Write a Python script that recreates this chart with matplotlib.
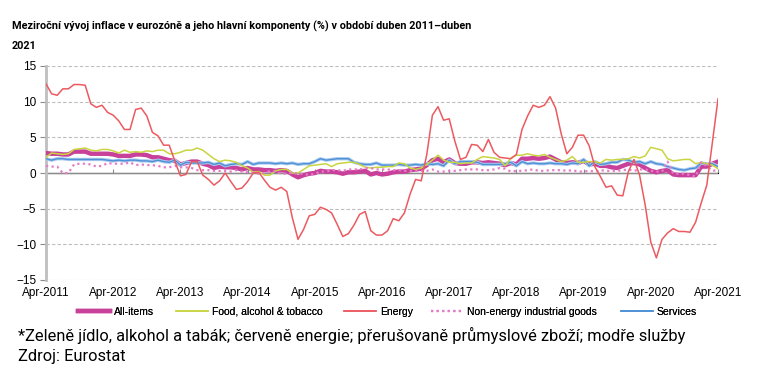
import matplotlib
matplotlib.use("Agg")
import matplotlib.pyplot as plt
from matplotlib.lines import Line2D

# ---------------- data ----------------
tick_labels = ["Apr-2011", "Apr-2012", "Apr-2013", "Apr-2014", "Apr-2015", "Apr-2016",
               "Apr-2017", "Apr-2018", "Apr-2019", "Apr-2020", "Apr-2021"]

all_items = [
    2.8, 2.7, 2.7, 2.6, 2.6, 3.0, 3.0, 3.0, 2.7,
    2.7, 2.7, 2.7, 2.6, 2.4, 2.4, 2.4, 2.6, 2.6, 2.5, 2.2, 2.2,
    2.0, 1.8, 1.7, 1.2, 1.4, 1.6, 1.6, 1.3, 1.1, 0.7, 0.9, 0.8,
    0.8, 0.7, 0.5, 0.7, 0.5, 0.5, 0.4, 0.4, 0.3, 0.4, 0.3, -0.2,
    -0.6, -0.3, -0.1, 0.0, 0.3, 0.2, 0.2, 0.1, -0.1, 0.1, 0.1, 0.2,
    0.3, -0.2, 0.0, -0.2, -0.1, 0.1, 0.2, 0.2, 0.4, 0.5, 0.6, 1.1,
    1.8, 2.0, 1.5, 1.9, 1.4, 1.3, 1.3, 1.5, 1.5, 1.4, 1.5, 1.4,
    1.3, 1.1, 1.4, 1.2, 2.0, 2.0, 2.1, 2.0, 2.1, 2.3, 1.9, 1.5,
    1.4, 1.5, 1.4, 1.7, 1.2, 1.3, 1.0, 1.0, 0.8, 0.7, 1.0, 1.3,
    1.4, 1.2, 0.7, 0.3, 0.1, 0.3, 0.4, -0.2, -0.3, -0.3, -0.3, -0.3,
    0.9, 0.9, 1.3, 1.6]

food = [
    2.2, 2.8, 2.7, 2.6, 2.7, 3.3, 3.4, 3.5, 3.2,
    3.1, 3.3, 3.3, 3.1, 2.8, 3.2, 2.9, 3.0, 2.9, 3.1, 3.0, 3.2,
    3.2, 2.7, 2.7, 2.9, 3.2, 3.2, 3.5, 3.2, 2.6, 2.0, 1.6, 1.8,
    1.7, 1.5, 1.0, 0.7, 0.1, 0.2, -0.3, -0.3, 0.3, 0.5, 0.5, 0.0,
    0.0, 0.5, 1.0, 1.1, 1.2, 1.3, 0.9, 1.3, 1.4, 1.5, 1.5, 1.2,
    0.8, 0.7, 0.8, 0.8, 0.9, 0.9, 1.4, 1.3, 0.7, 0.5, 0.7, 1.2,
    1.8, 2.5, 1.8, 1.5, 1.5, 1.3, 1.4, 1.4, 1.9, 2.3, 2.2, 2.1,
    1.9, 1.0, 2.1, 2.5, 2.5, 2.7, 2.5, 2.4, 2.6, 2.2, 1.9, 1.6,
    1.8, 2.3, 1.5, 1.5, 1.6, 1.6, 1.4, 1.9, 1.8, 1.9, 1.9, 2.0,
    2.3, 2.1, 2.4, 3.6, 3.4, 3.2, 2.0, 1.7, 1.8, 1.9, 1.9, 1.3,
    1.5, 1.3, 1.1, 0.6]

energy = [
    12.5, 11.1, 10.9, 11.8, 11.8, 12.4, 12.4, 12.3, 9.7,
    9.2, 9.5, 8.5, 8.1, 7.3, 6.1, 6.1, 8.9, 9.1, 8.0, 5.7, 5.2,
    3.9, 3.9, 1.7, -0.4, -0.2, 1.6, 1.6, -0.3, -0.9, -1.7, -1.1, 0.0,
    -1.2, -2.3, -2.1, -1.2, 0.0, 0.1, -1.0, -2.0, -2.4, -2.0, -2.6, -6.3,
    -9.3, -7.9, -6.0, -5.8, -4.8, -5.1, -5.6, -7.2, -8.9, -8.5, -7.3, -5.8,
    -5.4, -8.1, -8.7, -8.7, -8.1, -6.4, -6.7, -5.6, -3.0, -0.9, -1.1, 2.6,
    8.1, 9.3, 7.4, 7.6, 4.5, 1.9, 2.2, 4.0, 3.9, 3.0, 4.7, 2.9,
    2.2, 2.1, 2.0, 2.6, 6.1, 8.0, 9.5, 9.2, 9.5, 10.7, 9.1, 5.5,
    2.7, 3.6, 5.3, 5.3, 3.8, 0.9, -0.5, -2.0, -1.8, -3.1, -3.2, 0.2,
    1.9, -0.3, -4.5, -9.7, -11.9, -9.3, -8.4, -7.8, -8.2, -8.2, -8.3, -6.9,
    -4.2, -1.7, 4.3, 10.4]

non_energy_goods = [
    1.0, 0.9, 0.9, 0.0, 0.0, 1.2, 1.3, 1.3, 1.2,
    0.9, 1.0, 1.4, 1.3, 1.3, 1.3, 1.5, 1.1, 1.2, 1.1, 1.1, 1.0,
    0.8, 0.8, 1.0, 0.8, 0.8, 0.7, 0.4, 0.4, 0.4, 0.3, 0.3, 0.3,
    0.2, 0.4, 0.2, 0.1, 0.0, -0.1, 0.0, 0.3, 0.2, -0.1, -0.1, 0.0,
    -0.1, -0.1, -0.3, -0.1, 0.2, 0.2, 0.4, 0.4, 0.3, 0.5, 0.5, 0.5,
    0.7, 0.7, 0.5, 0.5, 0.5, 0.4, 0.4, 0.3, 0.3, 0.3, 0.3, 0.3,
    0.5, 0.2, 0.2, 0.3, 0.3, 0.4, 0.5, 0.5, 0.5, 0.4, 0.4, 0.5,
    0.7, 0.6, 0.2, 0.3, 0.3, 0.4, 0.5, 0.3, 0.3, 0.4, 0.4, 0.4,
    0.3, 0.4, 0.2, 0.2, 0.3, 0.2, 0.4, 0.3, 0.3, 0.3, 0.4, 0.5,
    0.3, 0.5, 0.5, 0.3, 0.2, 0.2, 1.6, -0.1, -0.1, -0.1, -0.3, -0.5,
    1.5, 1.0, 0.3, 0.4]

services = [
    2.0, 1.8, 2.0, 2.0, 1.9, 1.9, 1.9, 1.9, 1.9,
    1.9, 1.9, 1.8, 1.7, 1.8, 1.7, 1.8, 1.8, 1.7, 1.7, 1.6, 1.8,
    1.6, 1.5, 1.8, 1.1, 1.5, 1.4, 1.4, 1.4, 1.5, 1.2, 1.4, 1.0,
    1.2, 1.3, 1.2, 1.6, 1.2, 1.4, 1.4, 1.4, 1.3, 1.4, 1.3, 1.4,
    1.2, 1.3, 1.3, 1.6, 2.0, 1.8, 1.9, 2.0, 2.0, 2.0, 1.5, 1.3,
    1.2, 1.2, 1.4, 1.1, 1.1, 1.1, 1.2, 1.1, 1.1, 1.2, 1.1, 1.3,
    1.2, 1.3, 1.0, 1.8, 1.3, 1.6, 1.6, 1.6, 1.5, 1.2, 1.2, 1.2,
    1.2, 1.3, 1.5, 1.0, 1.6, 1.3, 1.4, 1.3, 1.3, 1.4, 1.3, 1.3,
    1.2, 1.4, 1.3, 1.9, 1.0, 1.6, 1.2, 1.3, 1.5, 1.5, 1.9, 1.8,
    1.5, 1.6, 1.3, 1.6, 1.3, 1.2, 0.9, 0.7, 0.5, 0.4, 0.6, 0.7,
    1.4, 1.3, 1.3, 0.9]

series_names = ["All-items", "Food, alcohol & tobacco", "Energy",
                "Non-energy industrial goods", "Services"]

title_text = "Meziroční vývoj inflace v eurozóně a jeho hlavní komponenty (%) v období duben 2011–duben\n2021"
note_text = "*Zeleně jídlo, alkohol a tabák; červeně energie; přerušovaně průmyslové zboží; modře služby"
source_text = "Zdroj: Eurostat"

# ---------------- figure ----------------
W, H = 778, 382
fig = plt.figure(figsize=(W / 100, H / 100), dpi=100)
fig.patch.set_facecolor("white")

narrow = ["Liberation Sans Narrow", "Liberation Sans", "DejaVu Sans"]
body = ["Roboto", "DejaVu Sans"]

ax = fig.add_axes([46 / W, 102 / H, 672 / W, 214 / H])
n = len(all_items)
months = list(range(n))
ax.set_xlim(0, n - 1)
ax.set_ylim(-15, 15)

for yv in [-15, -10, -5, 5, 10, 15]:
    ax.axhline(yv, color="#BDBDBD", lw=0.8, ls=(0, (3, 2)), zorder=1)
ax.axhline(0, color="#8C8C8C", lw=1.0, zorder=1)

for s in ["top", "right", "bottom"]:
    ax.spines[s].set_visible(False)
ax.spines["left"].set_color("#BFBFBF")
ax.spines["left"].set_linewidth(2.0)

ax.set_yticks(range(-15, 16, 5))
ax.tick_params(axis="y", length=4, width=0.8, color="#8C8C8C", pad=3, labelsize=8.5)
year_pos = list(range(0, n, 12))
ax.set_xticks(year_pos)
ax.set_xticklabels(tick_labels)
ax.tick_params(axis="x", length=0, pad=5, labelsize=8.5)
for lab in ax.get_xticklabels() + ax.get_yticklabels():
    lab.set_fontfamily(narrow)

# small tick marks on the zero line
sec = ax.secondary_xaxis(0.5)
sec.set_xticks(year_pos)
sec.set_xticklabels([])
sec.tick_params(axis="x", length=3, width=0.8, color="#8C8C8C", direction="out")
sec.spines["bottom"].set_visible(False)

c_all = "#C8409A"
c_food = "#C9D440"
c_energy = "#EC5A60"
c_neig = "#E47CCB"
c_serv = "#4F8FD6"

ax.plot(months, all_items, color=c_all, lw=3.2, solid_capstyle="round", zorder=3)
ax.plot(months, food, color=c_food, lw=1.1, zorder=4)
ax.plot(months, energy, color=c_energy, lw=1.1, zorder=5)
ax.plot(months, non_energy_goods, color=c_neig, lw=1.6, ls=(0, (1, 1.5)), zorder=4)
ax.plot(months, services, color="#A9CBEF", lw=2.4, zorder=3.5)
ax.plot(months, services, color=c_serv, lw=1.0, zorder=3.6)

handles = [
    Line2D([], [], color=c_all, lw=3.2),
    Line2D([], [], color=c_food, lw=1.1),
    Line2D([], [], color=c_energy, lw=1.1),
    Line2D([], [], color=c_neig, lw=1.6, ls=(0, (1, 1.5))),
    Line2D([], [], color=c_serv, lw=1.2),
]

# legend entries placed individually (left edge of each key line, in px)
leg_x = [78, 176, 344, 431, 621]
leg_y = 312
leg_size = 7.5
for hx, h, name in zip(leg_x, handles, series_names):
    lg = fig.legend([h], [name], loc="center left", bbox_to_anchor=(hx / W, 1 - leg_y / H),
                    frameon=False, borderpad=0, borderaxespad=0, handlelength=3.1,
                    handletextpad=0.35, prop={"family": narrow, "size": leg_size})
    fig.add_artist(lg)

# ---------------- texts ----------------
fig.canvas.draw()
renderer = fig.canvas.get_renderer()


def fit_text(x, y, s, target_w, size, **kw):
    t = fig.text(x / W, 1 - y / H, s, fontsize=size, **kw)
    bb = t.get_window_extent(renderer)
    t.set_fontsize(size * target_w / bb.width)
    return t


t1 = fit_text(12, 26, title_text.split("\n")[0], 461, 10, family=body, weight="bold", va="center")
t2 = fig.text(12 / W, 1 - 46 / H, title_text.split("\n")[1], fontsize=t1.get_fontsize(),
              family=body, weight="bold", va="center")
f1 = fit_text(18, 335, note_text, 663, 11, family=body, va="center")
f2 = fig.text(18 / W, 1 - 356 / H, source_text, fontsize=f1.get_fontsize(), family=body, va="center")

fig.savefig("out.png", dpi=100, facecolor="white")
